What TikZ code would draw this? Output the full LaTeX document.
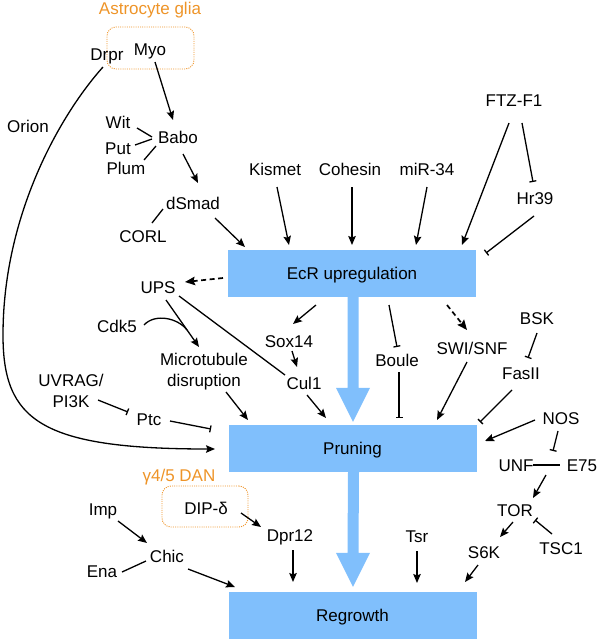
\documentclass[tikz,border=0pt]{standalone}
\usepackage{fontspec}
\setmainfont{Liberation Sans}
\usetikzlibrary{arrows.meta,calc}
\definecolor{boxblue}{RGB}{128,191,252}
\definecolor{glia}{RGB}{238,148,40}
\begin{document}
\begin{tikzpicture}[x=1pt,y=-1pt,
  lbl/.style={inner sep=0pt, text height=12.3pt, text depth=0pt, font=\fontsize{17pt}{21pt}\selectfont},
  lbltwo/.style={inner sep=0pt, align=center, font=\fontsize{17pt}{21pt}\selectfont},
  cn/.style={line width=1.3pt},
  act/.style={cn,-{Stealth[length=9pt,width=7.5pt,inset=1.5pt]}},
  inh/.style={cn,-{Bar[width=7pt,line width=1.3pt]}},
  dsh/.style={line width=1.7pt,dash pattern=on 5pt off 3.5pt,-{Stealth[length=10pt,width=8.5pt,inset=1.5pt]}},
  stage/.style={fill=boxblue, minimum width=248pt, minimum height=47pt, inner sep=0pt, text height=12.3pt, text depth=0pt, font=\fontsize{17pt}{21pt}\selectfont},
  glibox/.style={draw=glia, line width=0.9pt, dash pattern=on 1pt off 1.2pt, rounded corners=9pt, inner sep=0pt}]
\useasboundingbox (0,0) rectangle (597,640);

% boxes
\node[stage] (ecr) at (352,273.5) {EcR upregulation};
\node[stage] (pruning) at (352.5,448.5) {Pruning};
\node[stage] (regrowth) at (352.5,615.5) {Regrowth};

% big arrows
\foreach \a/\b/\hb/\tp in {ecr/pruning/37/3, pruning/regrowth/39/5}
  \fill[boxblue] ($(\a.south)+(-4.5,0)$) -- ($(\a.south)+(6.5,0)$) -- ($(\b.north)+(6,-\hb)$)
    -- ($(\b.north)+(17.5,-\hb)$) -- ($(\b.north)+(0.5,-\tp)$) -- ($(\b.north)+(-16.5,-\hb)$)
    -- ($(\b.north)+(-5,-\hb)$) -- cycle;

% glia boxes
\node[lbl,text=glia] (astro) at (150,8) {Astrocyte glia};
\node[glibox, minimum width=87pt, minimum height=42pt] (gbox) at (150.5,48) {};
\node[lbl,text=glia] (dan) at (179,475) {γ4/5 DAN};
\node[glibox, minimum width=86pt, minimum height=41pt] (dbox) at (205,506.5) {};

% labels
\node[lbl] (drpr) at (107,54) {Drpr};
\node[lbl] (myo) at (150,49) {Myo};
\node[lbl] (orion) at (28,126) {Orion};
\node[lbl] (babo) at (178,137) {Babo};
\node[lbl] (wit) at (118,122) {Wit};
\node[lbl] (put) at (118,148) {Put};
\node[lbl] (plum) at (126,168) {Plum};
\node[lbl] (dsmad) at (193,203) {dSmad};
\node[lbl] (corl) at (143,236) {CORL};
\node[lbl] (kismet) at (275,169) {Kismet};
\node[lbl] (cohesin) at (350,169) {Cohesin};
\node[lbl] (mir) at (427,169) {miR-34};
\node[lbl] (ftz) at (514,100) {FTZ-F1};
\node[lbl] (hr39) at (535,198) {Hr39};
\node[lbl] (ups) at (158,287) {UPS};
\node[lbl] (cdk5) at (117,326) {Cdk5};
\node[lbltwo] (mt) at (204,372) {Microtubule\\disruption};
\node[lbl] (sox14) at (289,341) {Sox14};
\node[lbl] (cul1) at (304,383) {Cul1};
\node[lbltwo] (uvrag) at (71,391) {UVRAG/\\PI3K};
\node[lbl] (ptc) at (149,419) {Ptc};
\node[lbl] (boule) at (397,360) {Boule};
\node[lbl] (swi) at (472,348) {SWI/SNF};
\node[lbl] (bsk) at (537,318) {BSK};
\node[lbl] (fasii) at (521,373) {FasII};
\node[lbl] (nos) at (561,418) {NOS};
\node[lbl] (unf) at (516,465) {UNF};
\node[lbl] (e75) at (582,465) {E75};
\node[lbl] (tor) at (515,510) {TOR};
\node[lbl] (tsc1) at (561,548) {TSC1};
\node[lbl] (s6k) at (484,552) {S6K};
\node[lbl] (tsr) at (417,536) {Tsr};
\node[lbl] (dip) at (206,508) {DIP-δ};
\node[lbl] (dpr12) at (290,535) {Dpr12};
\node[lbl] (imp) at (103,509) {Imp};
\node[lbl] (chic) at (167,556) {Chic};
\node[lbl] (ena) at (102,571) {Ena};

% connectors, top left
\draw[act] ($(myo)+(5,13)$) -- ($(babo)+(-5,-17)$);
\draw[cn] ($(wit)+(19,6)$) -- ($(babo)+(-26,0)$);
\draw[cn] ($(put)+(17,-3)$) -- ($(babo)+(-26,2)$);
\draw[cn] ($(plum)+(18,-8)$) -- ($(babo)+(-22,9)$);
\draw[act] ($(babo)+(5,17)$) -- ($(dsmad)+(5,-20)$);
\draw[cn] ($(dsmad)+(-30,6)$) -- ($(corl)+(9,-13)$);
\draw[act] ($(dsmad)+(22,15)$) -- ($(ecr)+(-107,-26.5)$);
\draw[act] ($(kismet)+(2,18)$) -- ($(ecr)+(-63,-28.5)$);
\draw[act] ($(cohesin)+(2,18)$) -- ($(ecr)+(0,-28.5)$);
\draw[act] ($(mir)+(0,18)$) -- ($(ecr)+(64,-28.5)$);
\draw[act] ($(ftz)+(-5,23)$) -- ($(ecr)+(110,-28.5)$);
\draw[inh] ($(ftz)+(8,23)$) -- ($(hr39)+(-2,-16)$);
\draw[inh] ($(hr39)+(-1,18)$) -- ($(ecr)+(134,-20.5)$);

% Orion
\draw[act] ($(drpr)+(-4,13)$) .. controls (60,115) and (3,215) .. (3,335)
  .. controls (3,420) and (40,449) .. ($(pruning)+(-137.5,0.5)$);

% middle left
\draw[dsh] ($(ecr)+(-129,4.5)$) -- ($(ups)+(27,-5)$);
\draw[act] ($(ups)+(8,13)$) -- ($(mt)+(-5,-25)$);
\draw[cn] ($(cdk5)+(27,-1)$) .. controls ($(cdk5)+(38,-13)$) and ($(mt)+(-26,-54)$) .. ($(mt)+(-17,-42)$);
\draw[cn] ($(ups)+(21,9)$) -- ($(cul1)+(-19,-8)$);
\draw[act] ($(ecr)+(-36,31.5)$) -- ($(sox14)+(4,-17)$);
\draw[act] ($(sox14)+(3,10)$) -- ($(cul1)+(-7,-16)$);
\draw[act] ($(cul1)+(3,12)$) -- ($(pruning)+(-26.5,-30.5)$);
\draw[act] ($(mt)+(22,20)$) -- ($(pruning)+(-104.5,-28.5)$);
\draw[inh] ($(uvrag)+(27,9)$) -- ($(ptc)+(-21,-7)$);
\draw[inh] ($(ptc)+(21,2)$) -- ($(pruning)+(-141.5,-19.5)$);

% middle right
\draw[inh] ($(ecr)+(37,31.5)$) -- ($(boule)+(0,-13)$);
\draw[inh] ($(boule)+(2,12)$) -- ($(pruning)+(46.5,-30.5)$);
\draw[dsh] ($(ecr)+(95,31.5)$) -- ($(swi)+(-5,-18)$);
\draw[act] ($(swi)+(-5,14)$) -- ($(pruning)+(84.5,-28.5)$);
\draw[inh] ($(bsk)+(0,15)$) -- ($(fasii)+(7,-15)$);
\draw[inh] ($(fasii)+(-9,17)$) -- ($(pruning)+(127.5,-26.5)$);
\draw[act] ($(nos)+(-26,2)$) -- ($(pruning)+(132.5,-7.5)$);
\draw[inh] ($(nos)+(-3,13)$) -- ($(unf)+(37,-14)$);
\draw[cn] ($(unf)+(17,0)$) -- ($(e75)+(-22,0)$);
\draw[act] ($(unf)+(30,10)$) -- ($(tor)+(18,-12)$);
\draw[act] ($(tor)+(-2,12)$) -- ($(s6k)+(16,-15)$);
\draw[inh] ($(tsc1)+(-9,-14)$) -- ($(tor)+(20,10)$);
\draw[act] ($(s6k)+(-6,13)$) -- ($(regrowth)+(112.5,-33.5)$);
\draw[act] ($(tsr)+(0,15)$) -- ($(regrowth)+(64.5,-32.5)$);

% bottom left
\draw[act] ($(dip)+(35,5)$) -- ($(dpr12)+(-29,-8)$);
\draw[act] ($(dpr12)+(3,15)$) -- ($(regrowth)+(-59.5,-33.5)$);
\draw[act] ($(imp)+(15,12)$) -- ($(chic)+(-20,-13)$);
\draw[cn] ($(ena)+(20,1)$) -- ($(chic)+(-21,5)$);
\draw[act] ($(chic)+(21,13)$) -- ($(regrowth)+(-117.5,-28.5)$);
\end{tikzpicture}
\end{document}
